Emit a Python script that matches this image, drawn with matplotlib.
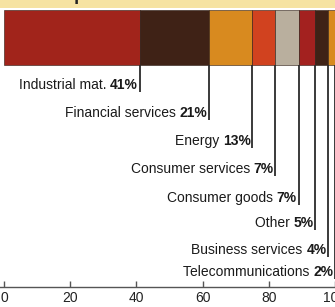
import matplotlib
matplotlib.use("Agg")
import matplotlib.pyplot as plt
from matplotlib.patches import Rectangle
import numpy as np

# Sector split data
sectors = ["Industrial mat.", "Financial services", "Energy", "Consumer services",
           "Consumer goods", "Other", "Business services", "Telecommunications"]
shares = [41, 21, 13, 7, 7, 5, 4, 2]
colors = ["#a1241b", "#3f2216", "#d88a1f", "#d1421f", "#b9af9e", "#a3211f", "#3f2216", "#d88a1f"]
ticks = [0, 20, 40, 60, 80, 100]

# Layout (y in pixel rows, top = 0)
label_y = [85, 113, 141, 169, 198, 223, 250, 272]
bar_top, bar_bottom = 10, 65
axis_y = 287

plt.rcParams['font.family'] = ['Liberation Sans', 'DejaVu Sans']

fig = plt.figure(figsize=(3.35, 3.07), dpi=100)
ax = fig.add_axes([0, 0, 1, 1])
ax.set_xlim(-1.2, 100.0)
ax.set_ylim(307, 0)

# Yellow title band at the very top (title mostly cut off)
ax.add_patch(Rectangle((-5, -5), 110, 13, facecolor="#f6e3a2", edgecolor="none", zorder=0))
fig.text(0.01, 1.0 + 4 / 307, "Sector split", fontsize=13, fontweight="bold",
         color="#222222", va="center", ha="left")

# Stacked bar
lefts = np.concatenate([[0], np.cumsum(shares)[:-1]])
rights = np.cumsum(shares)
ax.barh((bar_top + bar_bottom) / 2, shares, left=lefts, height=bar_bottom - bar_top,
        color=colors, edgecolor="#2a1a12", linewidth=0.4, zorder=2)

# Leader lines and labels
fig.canvas.draw()
renderer = fig.canvas.get_renderer()
for name, val, x, y in zip(sectors, shares, rights, label_y):
    ax.plot([x, x], [bar_bottom, y + 7], color="#2b2b2b", lw=1.3, zorder=3,
            solid_capstyle="butt", clip_on=False)
    pct = ax.text(x - 0.5, y, f"{val}%", ha="right", va="center", fontsize=10,
                  fontweight="bold", color="#1a1a1a")
    w = pct.get_window_extent(renderer).width
    ax.annotate(name + " ", xy=(x - 0.5, y), xytext=(-w, 0), textcoords="offset pixels",
                ha="right", va="center", fontsize=10, color="#1a1a1a")

# Bottom axis
for s in ["top", "left", "right"]:
    ax.spines[s].set_visible(False)
ax.spines["bottom"].set_position(("data", axis_y))
ax.spines["bottom"].set_color("#555555")
ax.spines["bottom"].set_linewidth(1.0)
ax.set_xticks(ticks)
ax.set_xticklabels([str(t) for t in ticks])
ax.tick_params(axis="x", direction="in", length=4, width=1, color="#555555",
               labelsize=10, labelcolor="#222222", pad=3)
ax.set_yticks([])

fig.savefig("out.png", dpi=100)
